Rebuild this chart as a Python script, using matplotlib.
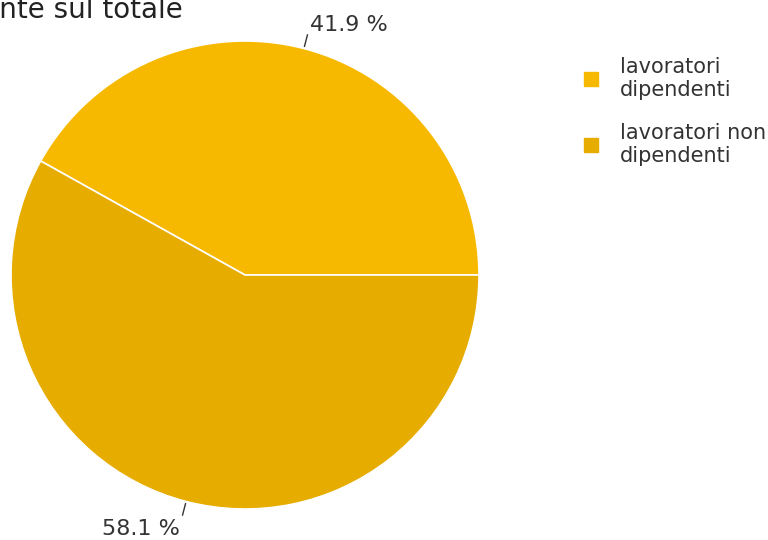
import numpy as np
import matplotlib
matplotlib.use("Agg")
import matplotlib.pyplot as plt
from matplotlib.lines import Line2D

# quote sul totale degli occupati
labels = ["lavoratori\ndipendenti", "lavoratori non\ndipendenti"]
values = [41.9, 58.1]
colors = ["#F7B900", "#E6AC00"]
title = "Incidenza del lavoro indipendente sul totale"

W, H = 768, 540
fig = plt.figure(figsize=(W / 100, H / 100), dpi=100)
fig.patch.set_facecolor("white")

# area della torta: centro (245, 275) px, raggio 234 px
cx, cy, r = 245, 275, 234
ax = fig.add_axes([(cx - r) / W, (H - cy - r) / H, 2 * r / W, 2 * r / H])
wedges, _ = ax.pie(values, colors=colors, startangle=0, counterclock=True,
                   radius=1.0, wedgeprops=dict(edgecolor="white", linewidth=1.2))
ax.set_xlim(-1, 1)
ax.set_ylim(-1, 1)
ax.set_aspect("equal")
ax.axis("off")

# etichette percentuali con piccola linea guida
tot = sum(values)
start = 0.0
for v in values:
    mid = np.deg2rad(start + v / tot * 360 / 2)
    start += v / tot * 360
    x0, y0 = 1.01 * np.cos(mid), 1.01 * np.sin(mid)
    x1, y1 = 1.06 * np.cos(mid), 1.06 * np.sin(mid)
    ax.plot([x0, x1], [y0, y1], color="#333333", lw=1, clip_on=False)
    ha = "left" if np.cos(mid) >= 0 else "right"
    va = "bottom" if np.sin(mid) >= 0 else "top"
    ax.text(x1 + (0.01 if ha == "left" else -0.01), y1 + (0.0 if va == "bottom" else -0.015),
            f"{v:.1f} %", ha=ha, va=va, fontsize=16, color="#333333")

# titolo (parzialmente fuori dal bordo sinistro)
fig.text(183 / W, (H - 18) / H, title, ha="right", va="baseline",
         fontsize=20, color="#222222")

handles = [Line2D([0], [0], marker="s", linestyle="none", markersize=10,
                  markerfacecolor=c, markeredgecolor=c) for c in colors]
fig.legend(handles, labels, loc="upper left", bbox_to_anchor=(562 / W, 1 - 38 / H),
           frameon=False, fontsize=15, labelcolor="#333333",
           handletextpad=0.9, labelspacing=1.1, handlelength=1.0)

fig.savefig("out.png", dpi=100)
